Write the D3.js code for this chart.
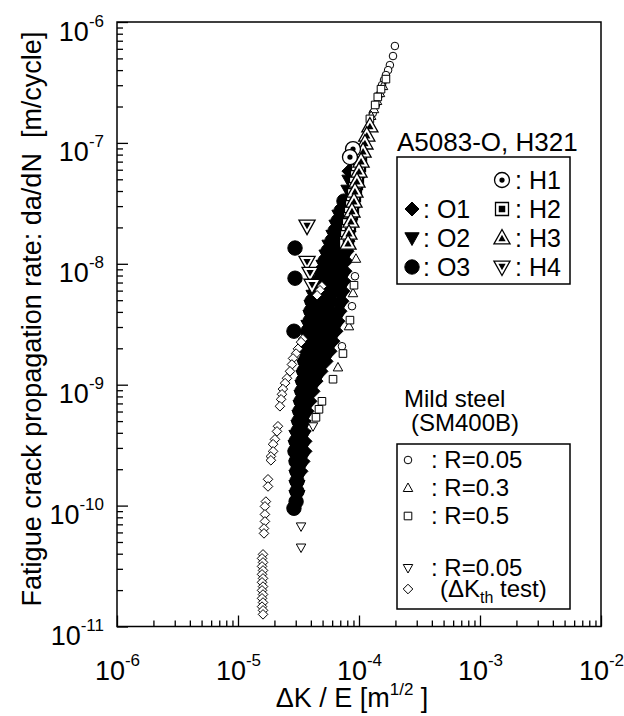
<!DOCTYPE html>
<html>
<head>
<meta charset="utf-8">
<script src="https://cdn.jsdelivr.net/npm/d3@7"></script>
<style>
  body { margin: 0; background: #fff; }
  svg { font-family: "Liberation Sans", Arial, sans-serif; }
</style>
</head>
<body>
<div id="wrapper"></div>
<script>
// axis ticks
const xTickValues = [1e-6, 1e-5, 1e-4, 1e-3, 1e-2];
const xTickExponents = ["-6", "-5", "-4", "-3", "-2"];
const yTickValues = [1e-11, 1e-10, 1e-9, 1e-8, 1e-7, 1e-6];
const yTickExponents = ["-11", "-10", "-9", "-8", "-7", "-6"];

// A5083-O (filled markers)  [dK/E, da/dN]
const alO1 = [
  [8.42e-5,5.84e-8],[8.42e-5,3.30e-8],[8.42e-5,2.73e-8],[8.26e-5,2.25e-8],[8.11e-5,1.86e-8],
  [7.96e-5,1.54e-8],[7.81e-5,1.27e-8],[7.66e-5,1.05e-8],[6.58e-5,8.68e-9],[7.51e-5,8.68e-9],
  [6.33e-5,7.18e-9],[7.37e-5,7.18e-9],[6.10e-5,5.93e-9],[7.23e-5,5.93e-9],[5.87e-5,4.90e-9],
  [7.10e-5,4.90e-9],[5.76e-5,4.05e-9],[6.83e-5,4.05e-9],[5.54e-5,3.35e-9],[6.58e-5,3.35e-9],
  [5.34e-5,2.77e-9],[6.33e-5,2.77e-9],[5.14e-5,2.29e-9],[5.98e-5,2.29e-9],[4.85e-5,1.89e-9],
  [5.65e-5,1.89e-9],[5.24e-5,1.56e-9],[4.76e-5,1.29e-9],[4.33e-5,1.07e-9],[4.09e-5,8.82e-10],
  [3.86e-5,7.29e-10],[3.65e-5,6.02e-10],[3.44e-5,4.98e-10],[3.44e-5,4.11e-10],[3.51e-5,3.40e-10],
  [3.51e-5,2.81e-10],[3.38e-5,2.32e-10],[3.25e-5,1.92e-10]
];
const alO2 = [
  [8.42e-5,4.83e-8],[8.26e-5,3.99e-8],[7.51e-5,2.25e-8],[7.23e-5,1.86e-8],[6.96e-5,1.54e-8],
  [6.58e-5,1.27e-8],[6.33e-5,1.05e-8],[5.65e-5,8.68e-9],[5.44e-5,7.18e-9],[5.24e-5,5.93e-9],
  [4.94e-5,4.90e-9],[4.76e-5,4.05e-9],[4.67e-5,3.35e-9],[4.50e-5,2.77e-9],[4.33e-5,2.29e-9],
  [4.25e-5,1.89e-9],[4.33e-5,1.56e-9],[4.09e-5,1.29e-9],[3.86e-5,1.07e-9],[3.72e-5,8.82e-10],
  [7.80e-5,3.00e-8],[6.96e-5,2.48e-8],[7.96e-5,2.48e-8],
  [6.58e-5,2.05e-8],[7.37e-5,2.05e-8],[8.11e-5,2.05e-8],
  [6.21e-5,1.69e-8],[7.10e-5,1.69e-8],[7.96e-5,1.69e-8],
  [5.76e-5,1.40e-8],[6.70e-5,1.40e-8],[7.81e-5,1.40e-8],
  [5.44e-5,1.16e-8],[6.45e-5,1.16e-8],[7.66e-5,1.16e-8],
  [5.14e-5,9.55e-9],[5.98e-5,9.55e-9],[6.96e-5,9.55e-9],
  [4.85e-5,7.89e-9],[5.54e-5,7.89e-9],[6.45e-5,7.89e-9],[7.37e-5,7.89e-9],
  [4.58e-5,6.52e-9],[5.34e-5,6.52e-9],[6.21e-5,6.52e-9],[7.23e-5,6.52e-9],
  [4.25e-5,5.39e-9],[5.04e-5,5.39e-9],[5.98e-5,5.39e-9],[7.10e-5,5.39e-9],
  [4.09e-5,4.46e-9],[4.85e-5,4.46e-9],[5.76e-5,4.46e-9],[6.96e-5,4.46e-9],
  [4.01e-5,3.68e-9],[4.76e-5,3.68e-9],[5.65e-5,3.68e-9],[6.70e-5,3.68e-9],
  [3.86e-5,3.04e-9],[4.58e-5,3.04e-9],[5.44e-5,3.04e-9],[6.45e-5,3.04e-9],
  [3.79e-5,2.52e-9],[4.41e-5,2.52e-9],[5.24e-5,2.52e-9],[6.10e-5,2.52e-9],
  [3.72e-5,2.08e-9],[4.33e-5,2.08e-9],[5.04e-5,2.08e-9],[5.76e-5,2.08e-9],
  [3.65e-5,1.72e-9],[4.25e-5,1.72e-9],[4.94e-5,1.72e-9],[5.44e-5,1.72e-9],
  [3.58e-5,1.42e-9],[4.17e-5,1.42e-9],[4.94e-5,1.42e-9],
  [3.51e-5,1.17e-9],[4.01e-5,1.17e-9],[4.58e-5,1.17e-9],
  [3.44e-5,9.70e-10],[3.79e-5,9.70e-10],[4.17e-5,9.70e-10],
  [3.38e-5,8.02e-10],[3.79e-5,8.02e-10],[3.32e-5,6.63e-10],[3.72e-5,6.63e-10],
  [3.25e-5,5.48e-10],[3.58e-5,5.48e-10],[3.19e-5,4.53e-10],[3.44e-5,4.53e-10],
  [3.07e-5,3.74e-10],[3.44e-5,3.74e-10],[3.02e-5,3.09e-10],[3.44e-5,3.09e-10],
  [3.02e-5,2.55e-10],[3.44e-5,2.55e-10],[3.07e-5,2.11e-10],[3.32e-5,2.11e-10],
  [3.07e-5,1.75e-10],[3.19e-5,1.75e-10],[3.07e-5,1.44e-10],[3.07e-5,1.19e-10]
];
const alO3 = [
  [7.51e-5,3.30e-8],[7.10e-5,2.73e-8],[6.70e-5,2.25e-8],[6.33e-5,1.86e-8],[5.98e-5,1.54e-8],
  [5.54e-5,1.27e-8],[5.24e-5,1.05e-8],[4.94e-5,8.68e-9],[4.67e-5,7.18e-9],[4.41e-5,5.93e-9],
  [4.09e-5,4.90e-9],[4.01e-5,4.05e-9],[3.94e-5,3.35e-9],[3.79e-5,2.77e-9],[3.72e-5,2.29e-9],
  [3.65e-5,1.89e-9],[3.58e-5,1.56e-9],[3.51e-5,1.29e-9],[3.44e-5,1.07e-9],[3.38e-5,8.82e-10],
  [3.32e-5,7.29e-10],[3.25e-5,6.02e-10],[3.19e-5,4.98e-10],[3.13e-5,4.11e-10],[3.02e-5,3.40e-10],
  [2.96e-5,2.81e-10],[3.02e-5,2.32e-10],[3.07e-5,1.92e-10],[3.07e-5,1.59e-10],[3.07e-5,1.31e-10],
  [3.02e-5,1.08e-10],[2.90e-5,9.5e-11],
  [2.96e-5,1.35e-8],[2.96e-5,7.6e-9],[2.90e-5,2.77e-9]
];

// H321 (open markers with a filled core)
const alH1 = [[8.92e-5,8.89e-8],[8.42e-5,7.63e-8]];
const alH2 = [
  [1.02e-4,7.35e-8],[1.00e-4,6.56e-8],[9.81e-5,5.84e-8],[9.62e-5,5.21e-8],[9.44e-5,4.65e-8],
  [9.26e-5,4.15e-8],[9.09e-5,3.70e-8],[8.92e-5,3.30e-8],[8.75e-5,2.94e-8],[8.58e-5,2.62e-8],
  [8.42e-5,2.34e-8],[8.26e-5,2.09e-8],[8.11e-5,1.86e-8],[7.96e-5,1.66e-8],[7.81e-5,1.48e-8]
];
const alH3 = [
  [1.23e-4,1.38e-7],[1.16e-4,1.16e-7],[1.12e-4,9.97e-8],[1.08e-4,8.55e-8],[1.04e-4,7.07e-8],
  [1.00e-4,5.84e-8],[9.62e-5,4.83e-8],[9.26e-5,3.99e-8],[9.09e-5,3.30e-8],[8.75e-5,2.73e-8],
  [8.58e-5,2.25e-8],[8.26e-5,1.79e-8],[8.11e-5,1.48e-8]
];
const alH4 = [[3.72e-5,2.05e-8],[3.72e-5,1.03e-8],[3.94e-5,8.35e-9],[4.09e-5,6.65e-9]];

// mild steel SM400B (small open markers)
const steelR005 = [
  [1.98e-4,6.33e-7],[1.91e-4,5.23e-7],[1.80e-4,4.40e-7],[1.74e-4,4.0e-7],[1.67e-4,3.64e-7],
  [1.61e-4,3.31e-7],[1.55e-4,3.01e-7],[1.46e-4,2.48e-7],[1.38e-4,2.06e-7],[1.30e-4,1.76e-7],
  [9.26e-5,7.89e-9],[8.75e-5,4.46e-9],[7.23e-5,2.08e-9]
];
const steelR03 = [
  [1.58e-4,2.95e-7],[1.49e-4,2.58e-7],[1.41e-4,2.22e-7],[1.33e-4,1.90e-7],[1.26e-4,1.67e-7],
  [9.44e-5,1.10e-8],[8.92e-5,5.71e-9],[8.26e-5,3.04e-9],[6.70e-5,1.39e-9]
];
const steelR05 = [
  [1.67e-4,3.37e-7],[1.52e-4,2.78e-7],[1.43e-4,2.40e-7],[1.36e-4,2.06e-7],[1.23e-4,1.58e-7],
  [9.09e-5,6.65e-9],[8.42e-5,3.42e-9],[7.37e-5,1.81e-9],[6.10e-5,1.11e-9],[4.94e-5,7.29e-10],
  [4.67e-5,6.26e-10],[4.41e-5,5.37e-10]
];
const steelR005b = [[4.17e-5,4.53e-10],[3.32e-5,6.73e-11],[3.32e-5,4.50e-11]];
const steelKth = [
  [4.94e-5,6.52e-9],[4.76e-5,6.04e-9],[4.50e-5,5.49e-9],
  [3.44e-5,2.38e-9],[3.32e-5,2.25e-9],[3.13e-5,1.98e-9],[3.02e-5,1.81e-9],[2.85e-5,1.65e-9],
  [2.79e-5,1.47e-9],[2.69e-5,1.29e-9],[2.54e-5,1.13e-9],[2.45e-5,1.03e-9],[2.35e-5,9.2e-10],
  [2.31e-5,8.33e-10],[2.27e-5,7.57e-10],[2.22e-5,6.63e-10],
  [2.14e-5,4.53e-10],[2.10e-5,4.11e-10],[2.02e-5,3.53e-10],[1.95e-5,3.22e-10],[1.95e-5,2.81e-10],
  [1.87e-5,2.55e-10],[1.87e-5,2.37e-10],[1.77e-5,1.65e-10],[1.77e-5,1.44e-10],
  [1.70e-5,1.08e-10],[1.67e-5,9.85e-11],[1.67e-5,8.46e-11],[1.67e-5,7.40e-11],[1.64e-5,6.47e-11],
  [1.64e-5,5.89e-11],
  [1.61e-5,3.95e-11],[1.58e-5,3.66e-11],[1.61e-5,3.39e-11],[1.58e-5,3.14e-11],[1.61e-5,2.91e-11],
  [1.58e-5,2.70e-11],[1.61e-5,2.50e-11],[1.58e-5,2.32e-11],[1.61e-5,2.14e-11],[1.58e-5,1.99e-11],
  [1.61e-5,1.84e-11],[1.58e-5,1.71e-11],[1.61e-5,1.58e-11],[1.58e-5,1.46e-11],[1.61e-5,1.36e-11],
  [1.61e-5,1.26e-11]
];

// legend entries
const alLegendTitle = "A5083-O, H321";
const alLegendRows = [["", "H1"], ["O1", "H2"], ["O2", "H3"], ["O3", "H4"]];
const steelLegendTitle = ["Mild steel", "(SM400B)"];
const steelLegendRows = [["S1", ": R=0.05"], ["S2", ": R=0.3"], ["S3", ": R=0.5"], ["S4", ": R=0.05"], ["S5", ""]];

const markerStyles = {
  O1: {kind: "diamond", r: 8, fill: "black"},
  O2: {kind: "triDown", r: 8.5, fill: "black"},
  O3: {kind: "circle", r: 7.2, fill: "black"},
  H1: {kind: "circle", r: 7.5, fill: "white", inner: 0.35},
  H2: {kind: "square", r: 6.5, fill: "white", inner: 0.5},
  H3: {kind: "triUp", r: 8.5, fill: "white", inner: 0.45},
  H4: {kind: "triDown", r: 8.5, fill: "white", inner: 0.45},
  S1: {kind: "circle", r: 3.8, fill: "white"},
  S2: {kind: "triUp", r: 5, fill: "white"},
  S3: {kind: "square", r: 3.8, fill: "white"},
  S4: {kind: "triDown", r: 5, fill: "white"},
  S5: {kind: "diamond", r: 4.8, fill: "white"},
};
const legendStyles = Object.assign({}, markerStyles, {
  O1: {kind: "diamond", r: 7, fill: "black"},
  O2: {kind: "triDown", r: 7.5, fill: "black"},
});

function shapePath(kind, r) {
  const p = d3.path();
  if (kind == "circle") { p.moveTo(r, 0); p.arc(0, 0, r, 0, 2 * Math.PI); }
  if (kind == "square") { p.rect(-r, -r, 2 * r, 2 * r); }
  if (kind == "diamond") { p.moveTo(0, -r); p.lineTo(r, 0); p.lineTo(0, r); p.lineTo(-r, 0); p.closePath(); }
  if (kind == "triUp") { p.moveTo(0, -r); p.lineTo(r * 0.95, r * 0.7); p.lineTo(-r * 0.95, r * 0.7); p.closePath(); }
  if (kind == "triDown") { p.moveTo(0, r); p.lineTo(r * 0.95, -r * 0.7); p.lineTo(-r * 0.95, -r * 0.7); p.closePath(); }
  return p.toString();
}

function drawMarker(sel, st) {
  sel.append("path")
    .attr("d", shapePath(st.kind, st.r))
    .attr("fill", st.fill)
    .attr("stroke", "black")
    .attr("stroke-width", st.inner ? 1.3 : 1);
  if (st.inner) {
    let shift = 0;
    if (st.kind == "triUp") shift = 0.133 * st.r * (1 - st.inner);
    if (st.kind == "triDown") shift = -0.133 * st.r * (1 - st.inner);
    sel.append("path")
      .attr("d", shapePath(st.kind, st.r * st.inner))
      .attr("transform", `translate(0,${shift})`)
      .attr("fill", "black");
  }
}

function drawChart() {
  let dimensions = {
    width: 624,
    height: 716,
    margin: { top: 22, right: 23, bottom: 89.5, left: 117 },
  };
  dimensions.boundedWidth = dimensions.width - dimensions.margin.left - dimensions.margin.right;
  dimensions.boundedHeight = dimensions.height - dimensions.margin.top - dimensions.margin.bottom;

  const wrapper = d3.select("#wrapper")
    .append("svg")
    .attr("width", dimensions.width)
    .attr("height", dimensions.height);

  const bounds = wrapper.append("g")
    .attr("transform", `translate(${dimensions.margin.left},${dimensions.margin.top})`);

  const xScale = d3.scaleLog()
    .domain([1e-6, 1e-2])
    .range([0, dimensions.boundedWidth]);
  const yScale = d3.scaleLog()
    .domain([1e-11, 1e-6])
    .range([dimensions.boundedHeight, 0]);

  const isDecade = (d) => Math.abs(Math.log10(d) - Math.round(Math.log10(d))) < 1e-6;

  // minor ticks
  bounds.append("g")
    .attr("transform", `translate(0,${dimensions.boundedHeight})`)
    .call(d3.axisBottom(xScale).tickValues(xScale.ticks().filter((d) => !isDecade(d))).tickSize(-6).tickFormat(""))
    .call((g) => g.select(".domain").remove())
    .selectAll("line").attr("stroke-width", 1.3);
  bounds.append("g")
    .call(d3.axisLeft(yScale).tickValues(yScale.ticks().filter((d) => !isDecade(d))).tickSize(-6).tickFormat(""))
    .call((g) => g.select(".domain").remove())
    .selectAll("line").attr("stroke-width", 1.3);

  // major ticks + labels
  const xAxis = bounds.append("g")
    .attr("transform", `translate(0,${dimensions.boundedHeight})`)
    .call(d3.axisBottom(xScale).tickValues(xTickValues).tickSize(-11).tickPadding(34).tickFormat(() => "10"))
    .call((g) => g.select(".domain").remove())
    .attr("font-size", 27).attr("font-family", null);
  xAxis.selectAll("line").attr("stroke-width", 1.3);
  xAxis.selectAll(".tick text").each(function (d, i) {
    const t = d3.select(this).text("");
    t.append("tspan").text("10");
    t.append("tspan").attr("font-size", 17).attr("dy", -14).text(xTickExponents[i]);
  });

  const yAxis = bounds.append("g")
    .call(d3.axisLeft(yScale).tickValues(yTickValues).tickSize(-11).tickPadding(13).tickFormat(() => "10"))
    .call((g) => g.select(".domain").remove())
    .attr("font-size", 27).attr("font-family", null);
  yAxis.selectAll("line").attr("stroke-width", 1.3);
  yAxis.selectAll(".tick text").attr("dy", "0.67em").each(function (d, i) {
    const t = d3.select(this).text("");
    t.append("tspan").text("10");
    t.append("tspan").attr("font-size", 17).attr("dy", -14).text(yTickExponents[i]);
  });

  bounds.append("rect")
    .attr("width", dimensions.boundedWidth)
    .attr("height", dimensions.boundedHeight)
    .attr("fill", "none")
    .attr("stroke", "black")
    .attr("stroke-width", 1.5);

  // data
  const seriesList = [
    ["O3", alO3], ["O2", alO2], ["O1", alO1],
    ["S1", steelR005], ["S2", steelR03], ["S3", steelR05], ["S4", steelR005b], ["S5", steelKth],
    ["H2", alH2], ["H3", alH3], ["H1", alH1], ["H4", alH4],
  ];
  seriesList.forEach(([name, values]) => {
    const pts = bounds.append("g")
      .selectAll("g")
      .data(values)
      .join("g")
      .attr("transform", (d) => `translate(${xScale(d[0])},${yScale(d[1])})`);
    drawMarker(pts, markerStyles[name]);
  });

  // axis titles
  wrapper.append("text")
    .attr("transform", "translate(41,319) rotate(-90)")
    .attr("text-anchor", "middle")
    .attr("font-size", 27)
    .style("white-space", "pre")
    .text("Fatigue crack propagation rate: da/dN  [m/cycle]");

  const xTitle = wrapper.append("text")
    .attr("x", 352).attr("y", 707)
    .attr("text-anchor", "middle")
    .attr("font-size", 27)
    .style("white-space", "pre");
  xTitle.append("tspan").text("ΔK / E [m");
  xTitle.append("tspan").attr("font-size", 17).attr("dy", -12).text("1/2");
  xTitle.append("tspan").attr("dy", 12).text(" ]");

  // legend: aluminium
  const leg1 = wrapper.append("g");
  leg1.append("text").attr("x", 397).attr("y", 151).attr("font-size", 26).text(alLegendTitle);
  leg1.append("rect")
    .attr("x", 397).attr("y", 157).attr("width", 173).attr("height", 127)
    .attr("fill", "white").attr("stroke", "black").attr("stroke-width", 1.5);
  alLegendRows.forEach(([left, right], i) => {
    const cy = 180 + i * 29;
    if (left) {
      drawMarker(leg1.append("g").attr("transform", `translate(412,${cy})`), legendStyles[left]);
      leg1.append("text").attr("x", 423).attr("y", cy + 9).attr("font-size", 25).text(": " + left);
    }
    drawMarker(leg1.append("g").attr("transform", `translate(502,${cy})`), legendStyles[right]);
    leg1.append("text").attr("x", 515).attr("y", cy + 9).attr("font-size", 25).text(": " + right);
  });

  // legend: mild steel
  const leg2 = wrapper.append("g");
  leg2.append("text").attr("x", 404).attr("y", 407).attr("font-size", 24).text(steelLegendTitle[0]);
  leg2.append("text").attr("x", 411).attr("y", 431).attr("font-size", 24).text(steelLegendTitle[1]);
  leg2.append("rect")
    .attr("x", 397).attr("y", 444).attr("width", 173).attr("height", 165)
    .attr("fill", "white").attr("stroke", "black").attr("stroke-width", 1.5);
  const steelRowY = [460, 488, 516, 568, 589];
  steelLegendRows.forEach(([key, label], i) => {
    const cy = steelRowY[i];
    drawMarker(leg2.append("g").attr("transform", `translate(408,${cy})`), legendStyles[key]);
    if (label) {
      leg2.append("text").attr("x", 431).attr("y", cy + 8).attr("font-size", 24).text(label);
    } else {
      const t = leg2.append("text").attr("x", 440).attr("y", cy + 8).attr("font-size", 24).style("white-space", "pre");
      t.append("tspan").text("(ΔK");
      t.append("tspan").attr("font-size", 16).attr("dy", 6).text("th");
      t.append("tspan").attr("dy", -6).text(" test)");
    }
  });
}

drawChart();
</script>
</body>
</html>
